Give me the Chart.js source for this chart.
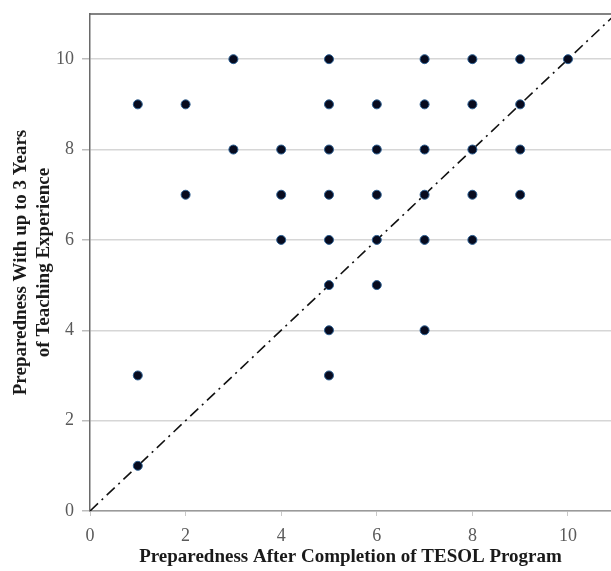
<!DOCTYPE html>
<html lang="en">
<head>
  <meta charset="UTF-8">
  <title>Preparedness scatter</title>
  <script src="https://cdn.jsdelivr.net/npm/chart.js"></script>
  <style>
    body {
      margin: 0;
      background: #fff;
      overflow: hidden;
    }
  </style>
</head>
<body>
  <canvas id="nuage" width="611" height="571"></canvas>

  <script>
    // scores
    const afterProgram   = [1, 1, 1, 2, 2, 3, 3, 4, 4, 4, 5, 5, 5, 5, 5, 5, 5, 5, 6, 6, 6, 6, 6, 7, 7, 7, 7, 7, 7, 8, 8, 8, 8, 8, 9, 9, 9, 9, 10];
    const withExperience = [9, 3, 1, 9, 7, 10, 8, 8, 7, 6, 10, 9, 8, 7, 6, 5, 4, 3, 9, 8, 7, 6, 5, 10, 9, 8, 7, 6, 4, 10, 9, 8, 7, 6, 10, 9, 8, 7, 10];
    const diagX = [0, 11];
    const diagY = [0, 11];
    const xTicks = [0, 2, 4, 6, 8, 10];
    const yTicks = [0, 2, 4, 6, 8, 10];

    const points = afterProgram.map((x, i) => ({ x: x, y: withExperience[i] }));
    const diag = diagX.map((x, i) => ({ x: x, y: diagY[i] }));

    const serif = "'Liberation Serif', 'DejaVu Serif', serif";

    // top frame line of the plot box
    const cadre = {
      id: "cadre",
      afterDraw(chart) {
        const a = chart.chartArea;
        const ctx = chart.ctx;
        ctx.save();
        ctx.strokeStyle = "#5a5a5a";
        ctx.lineWidth = 1.5;
        ctx.beginPath();
        ctx.moveTo(a.left, a.top);
        ctx.lineTo(a.right, a.top);
        ctx.stroke();
        ctx.restore();
      }
    };

    new Chart(document.getElementById("nuage"), {
      type: "scatter",
      data: {
        datasets: [
          {
            data: points,
            backgroundColor: "#070b1f",
            borderColor: "#2c5f92",
            borderWidth: 1,
            pointRadius: 4.5,
            order: 1
          },
          {
            type: "line",
            data: diag,
            borderColor: "#111",
            borderWidth: 1.6,
            borderDash: [11, 5, 2, 5],
            pointRadius: 0,
            fill: false,
            order: 2
          }
        ]
      },
      options: {
        responsive: false,
        animation: false,
        layout: { autoPadding: false, padding: { top: 14, right: 0, left: 0, bottom: 0 } },
        plugins: {
          legend: { display: false },
          tooltip: { enabled: false }
        },
        scales: {
          x: {
            type: "linear",
            min: 0,
            max: 10.9,
            afterBuildTicks: s => { s.ticks = xTicks.map(v => ({ value: v })); },
            afterFit: s => { s.height = 60; s.paddingRight = 0; s.paddingLeft = 0; },
            grid: {
              drawOnChartArea: false,
              drawTicks: true,
              tickLength: 5,
              tickColor: "#c8c8c8"
            },
            border: { color: "#9a9a9a", width: 1.5 },
            ticks: {
              color: "#5a5a5a",
              padding: 9,
              font: { family: serif, size: 18 }
            },
            title: {
              display: true,
              text: "Preparedness After Completion of TESOL Program",
              color: "#1a1a1a",
              padding: { top: 0, bottom: 3 },
              font: { family: serif, size: 19, weight: "bold", lineHeight: 1.2 }
            }
          },
          y: {
            type: "linear",
            min: 0,
            max: 11,
            afterBuildTicks: s => { s.ticks = yTicks.map(v => ({ value: v })); },
            afterFit: s => { s.width = 90; s.paddingTop = 0; s.paddingBottom = 0; },
            grid: {
              color: "#d6d6d6",
              lineWidth: 1.5,
              drawTicks: true,
              tickLength: 8,
              tickColor: "#bdbdbd"
            },
            border: { color: "#6a6a6a", width: 1.5 },
            ticks: {
              color: "#5a5a5a",
              padding: 8,
              font: { family: serif, size: 18 }
            },
            title: {
              display: true,
              text: ["Preparedness With up to 3 Years", "of Teaching Experience"],
              color: "#1a1a1a",
              padding: { top: 10, bottom: 0 },
              font: { family: serif, size: 19, weight: "bold", lineHeight: 1.2 }
            }
          }
        }
      },
      plugins: [cadre]
    });
  </script>
</body>
</html>
